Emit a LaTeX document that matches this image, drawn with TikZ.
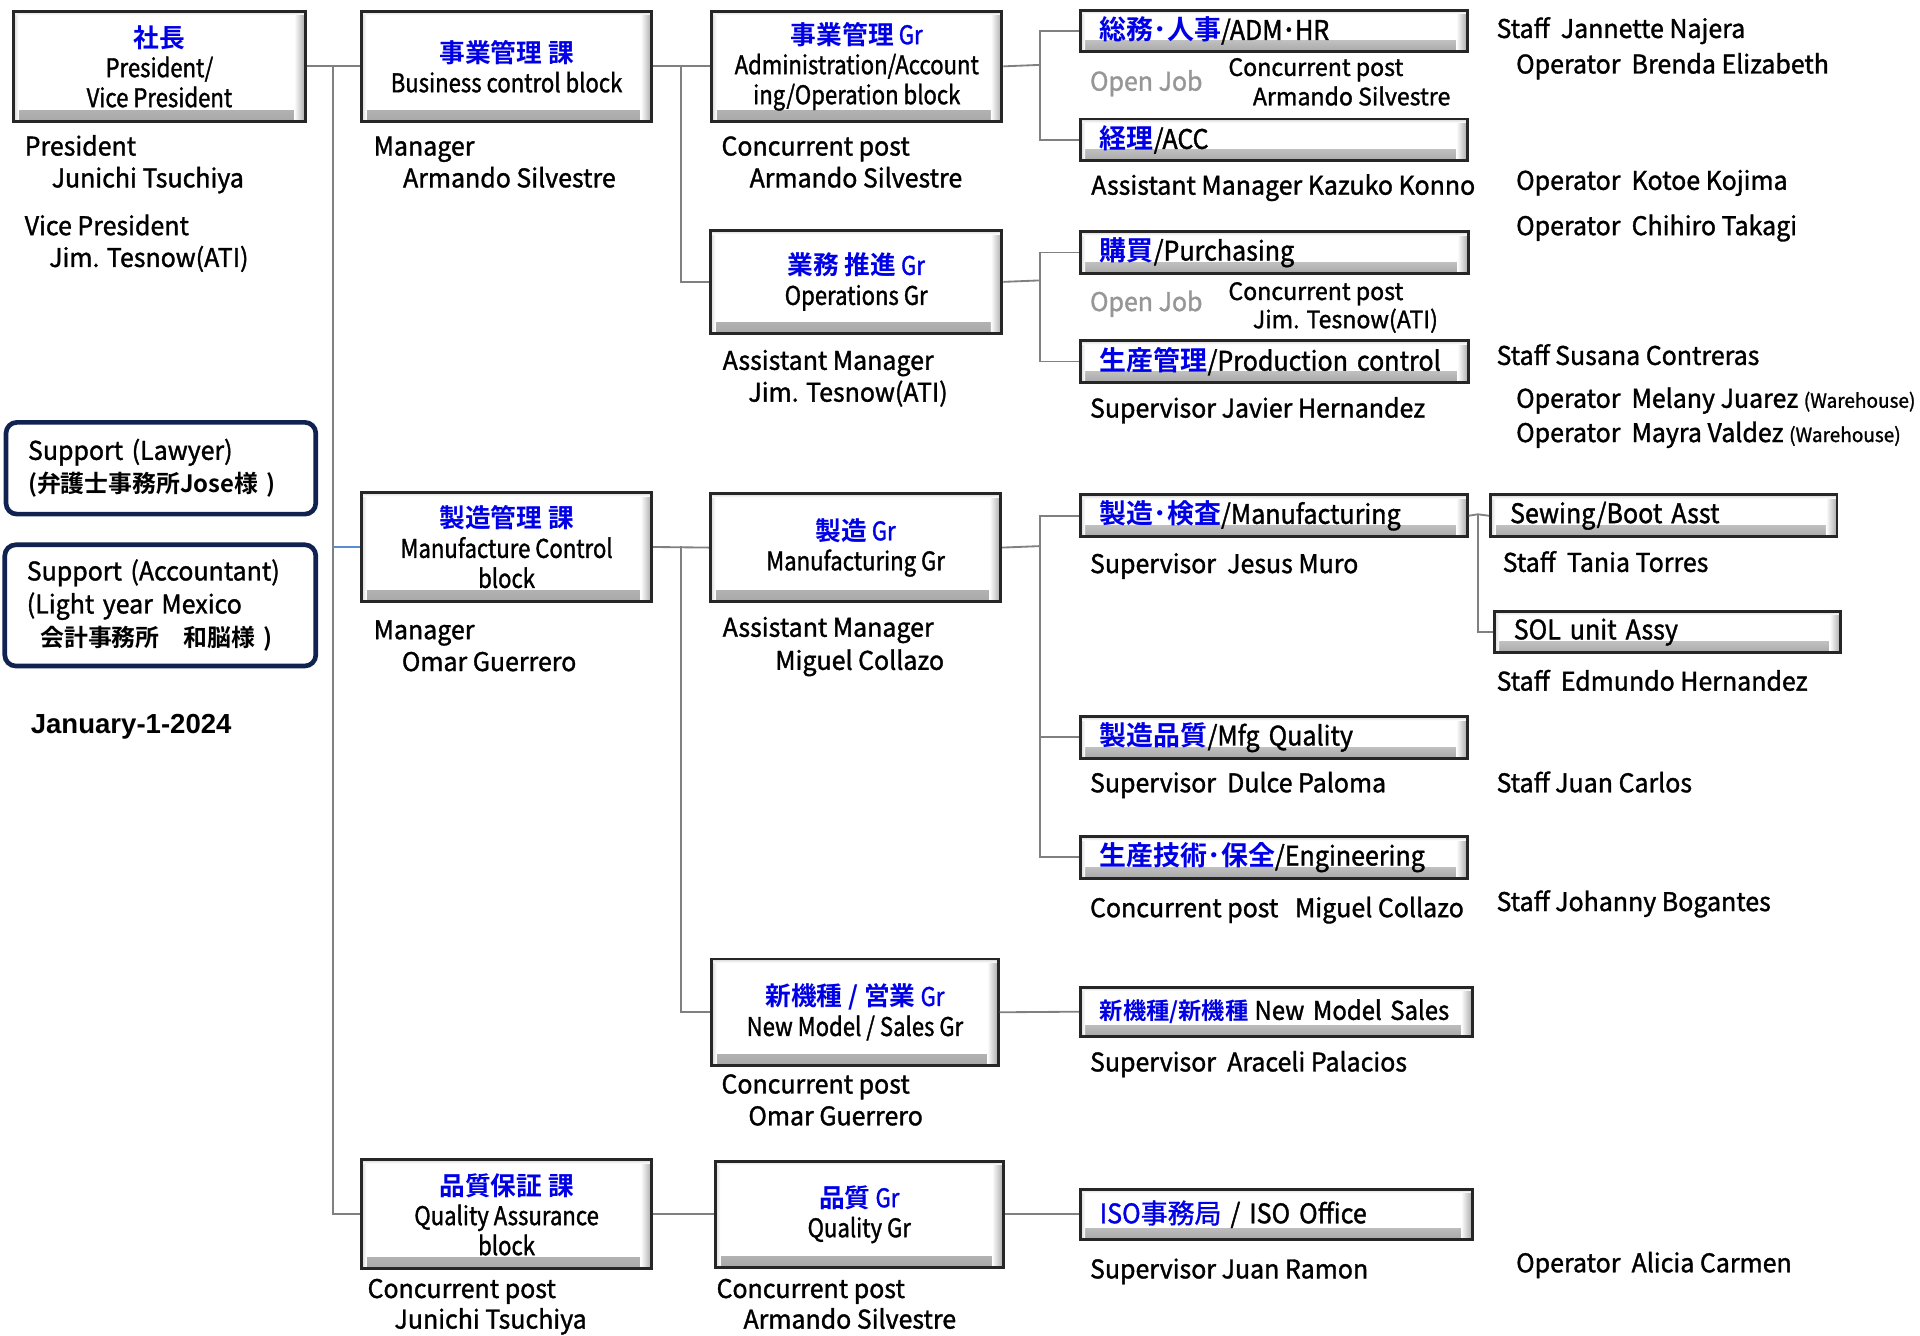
\documentclass[tikz,border=0pt]{standalone}
\usepackage{fontspec}
\setmainfont{Noto Sans CJK JP}[FakeStretch=0.97, FakeBold=1.3]
\newfontfamily\boxfont{Noto Sans CJK JP}[FakeStretch=0.86, FakeBold=1.3]
\newfontfamily\barfont{Noto Sans CJK JP}[FakeStretch=0.93, FakeBold=1.3]
\newfontfamily\jpfont{Noto Sans CJK JP Bold}
\newfontfamily\jpreg{Noto Sans CJK JP}[FakeBold=1.3]
\newfontfamily\arialfont{Liberation Sans}
\usetikzlibrary{calc}
\definecolor{jblue}{RGB}{0,0,230}
\definecolor{linegray}{RGB}{128,128,128}
\definecolor{navyline}{RGB}{16,34,80}
\definecolor{opengray}{RGB}{150,150,150}
\definecolor{linkblue}{RGB}{90,140,210}
\newcommand\jb[1]{{\color{jblue}\jpfont #1}}
\newcommand\bl[1]{{\color{jblue}#1}}
\newcommand\mytext[4]{\node[lbl] (#1) at (#2,#3) {#4};}
\tikzset{
  conn/.style={draw=linegray, line width=1.5pt},
  connb/.style={draw=linkblue, line width=1.5pt},
  bevelbox/.style={draw=black!85, line width=2.4pt, fill=white, inner sep=0pt,
     anchor=north west, align=center, font=\boxfont\fontsize{21}{24.5}\selectfont,
     path picture={
       \shade[top color=white, bottom color=black!34] ($(path picture bounding box.south west)+(0pt,9pt)$) rectangle (path picture bounding box.south east);
       \shade[left color=white, right color=black!34] ($(path picture bounding box.north east)+(-9pt,0pt)$) rectangle (path picture bounding box.south east);
       \shade[left color=black!16, right color=white] (path picture bounding box.north west) rectangle ($(path picture bounding box.south west)+(4pt,0pt)$);
       \shade[top color=black!16, bottom color=white] (path picture bounding box.north west) rectangle ($(path picture bounding box.north east)+(0pt,-3pt)$);
     }},
  barbox/.style={bevelbox, minimum height=34pt, inner xsep=16pt, align=left, font=\barfont\fontsize{22}{26}\selectfont},
  suppbox/.style={draw=navyline, line width=3.8pt, rounded corners=9pt, fill=white, anchor=north west,
     align=left, inner xsep=18pt, font=\fontsize{21}{27}\selectfont},
  lbl/.style={anchor=base west, inner sep=0pt, font=\fontsize{21}{25}\selectfont},
  small/.style={lbl, font=\fontsize{19.5}{23}\selectfont},
}
\begin{document}
\begin{tikzpicture}[x=1pt,y=-1pt]
\useasboundingbox (0,0) rectangle (1568,1091);

% ---------- boxes ----------
\node[bevelbox, minimum width=238pt, minimum height=90pt] (pres) at (10,8) {\jb{社長}\\President/\\Vice President};
\node[bevelbox, minimum width=237pt, minimum height=90pt] (bcb) at (294,8) {\jb{事業管理 課}\\Business control block};
\node[bevelbox, minimum width=237pt, minimum height=90pt] (adm) at (580,8) {\jb{事業管理} \bl{Gr}\\Administration/Account\\ing/Operation block};
\node[bevelbox, minimum width=238pt, minimum height=84pt] (ops) at (579,187) {\jb{業務 推進} \bl{Gr}\\Operations Gr};

\node[barbox, text width=284pt] (hr) at (881,7) {\jb{総務･人事}/ADM･HR};
\node[barbox, text width=284pt] (acc) at (881,96) {\jb{経理}/ACC};
\node[barbox, text width=285pt] (pur) at (881,188) {\jb{購買}/Purchasing};
\node[barbox, text width=285pt] (prod) at (881,277) {\jb{生産管理}/Production control};

\node[suppbox, text width=217pt, minimum height=75pt] (law) at (3,343) {Support (Lawyer)\\{\jpfont\fontsize{19.5}{24}\selectfont (弁護士事務所Jose様 )}};
\node[suppbox, text width=218pt, minimum height=99pt] (accnt) at (2,443) {Support (Accountant)\\(Light year Mexico\\\hspace*{11pt}{\jpfont\fontsize{19.5}{24}\selectfont 会計事務所　和脳様 )}};

\node[bevelbox, minimum width=237pt, minimum height=89pt] (mcb) at (294,401) {\jb{製造管理 課}\\Manufacture Control\\block};
\node[bevelbox, minimum width=237pt, minimum height=88pt] (mfg) at (579,402) {\jb{製造} \bl{Gr}\\Manufacturing Gr};
\node[barbox, text width=284pt] (mfgi) at (881,403) {\jb{製造･検査}/Manufacturing};
\node[barbox, text width=251pt] (sew) at (1216,403) {Sewing/Boot Asst};
\node[barbox, text width=251pt] (sol) at (1219,498) {SOL unit Assy};
\node[barbox, text width=284pt] (mq) at (881,584) {\jb{製造品質}/Mfg Quality};
\node[barbox, text width=284pt] (eng) at (881,682) {\jb{生産技術･保全}/Engineering};

\node[bevelbox, minimum width=234pt, minimum height=87pt] (nmg) at (580,782) {\jb{新機種 / 営業} \bl{Gr}\\New Model / Sales Gr};
\node[barbox, text width=288pt, minimum height=40pt, font=\barfont\fontsize{21}{25}\selectfont] (nms) at (881,805) {\mbox{{\color{jblue}\jpfont\fontsize{19}{22}\selectfont 新機種/新機種}\hspace{5pt}New Model Sales}};

\node[bevelbox, minimum width=237pt, minimum height=89pt] (qab) at (294,946) {\jb{品質保証 課}\\Quality Assurance\\block};
\node[bevelbox, minimum width=235pt, minimum height=87pt] (qg) at (583,947) {\jb{品質} \bl{Gr}\\Quality Gr};
\node[barbox, text width=288pt, minimum height=41pt] (iso) at (881,970) {{\color{jblue}ISO{\jpreg 事務局}} / ISO Office};

% ---------- connectors ----------
\coordinate (tr) at (272,53);
\draw[conn] (pres.east) -- (bcb.west);
\draw[conn] (tr) |- (qab.west);
\draw[connb] (tr |- mcb.west) -- (mcb.west);

\coordinate (b1) at (556,53);
\draw[conn] (bcb.east) -- (adm.west);
\draw[conn] (b1) |- (ops.west);

\coordinate (a1) at (849,53);
\draw[conn] (adm.east) -- (a1);
\draw[conn] (hr.west) -| (a1);
\draw[conn] (acc.west) -| (a1);

\coordinate (o1) at (849,229);
\draw[conn] (ops.east) -- (o1);
\draw[conn] (pur.west) -| (o1);
\draw[conn] (prod.west) -| (o1);

\coordinate (m1) at (556,446);
\draw[conn] (mcb.east) -- (mfg.west);
\draw[conn] (m1) |- (nmg.west);

\coordinate (g1) at (849,446);
\draw[conn] (mfg.east) -- (g1);
\draw[conn] (mfgi.west) -| (g1);
\draw[conn] (eng.west) -| (g1);
\draw[conn] (mq.west) -- (mq.west -| g1);

\coordinate (s1) at (1207,420);
\draw[conn] (mfgi.east) -- (s1);
\draw[conn] (s1) -- (sew.west);
\draw[conn] (s1) |- (sol.west);

\draw[conn] (nmg.east) -- (nms.west);
\draw[conn] (qab.east) -- (qg.west);
\draw[conn] (qg.east) -- (iso.west);

% ---------- labels ----------
\mytext{t1}{20}{127}{President}
\mytext{t2}{42}{153}{Junichi Tsuchiya}
\mytext{t3}{20}{192}{Vice President}
\mytext{t4}{40}{218}{Jim. Tesnow(ATI)}

\mytext{t5}{305}{127}{Manager}
\mytext{t6}{329}{153}{Armando Silvestre}

\mytext{t7}{589}{127}{Concurrent post}
\mytext{t8}{612}{153}{Armando Silvestre}

\node[lbl, text=opengray] (oj1) at (890,74) {Open Job};
\node[small] (t9) at (1003,62) {Concurrent post};
\node[small] (t10) at (1023,86) {Armando Silvestre};
\mytext{t11}{891}{159}{Assistant Manager Kazuko Konno}

\mytext{t12}{1222}{31}{Staff~~Jannette Najera}
\mytext{t13}{1238}{60}{Operator~~Brenda Elizabeth}
\mytext{t14}{1238}{155}{Operator~~Kotoe Kojima}
\mytext{t15}{1238}{192}{Operator~~Chihiro Takagi}

\mytext{t16}{590}{302}{Assistant Manager}
\mytext{t17}{611}{328}{Jim. Tesnow(ATI)}

\node[lbl, text=opengray] (oj2) at (890,254) {Open Job};
\node[small] (t18) at (1003,245) {Concurrent post};
\node[small] (t19) at (1023,268) {Jim. Tesnow(ATI)};
\mytext{t20}{1222}{298}{Staff Susana Contreras}
\mytext{t21}{890}{341}{Supervisor Javier Hernandez}
\mytext{t22}{1238}{333}{Operator~~Melany Juarez {\fontsize{16}{18}\selectfont (Warehouse)}}
\mytext{t23}{1238}{361}{Operator~~Mayra Valdez {\fontsize{16}{18}\selectfont (Warehouse)}}

\node[anchor=base west, inner sep=0pt, font=\arialfont\bfseries\fontsize{22.5}{26}\selectfont] (date) at (25,599) {January-1-2024};

\mytext{t24}{305}{522}{Manager}
\mytext{t25}{328}{548}{Omar Guerrero}
\mytext{t26}{590}{520}{Assistant Manager}
\mytext{t27}{633}{547}{Miguel Collazo}
\mytext{t28}{890}{468}{Supervisor~~Jesus Muro}
\mytext{t29}{1227}{467}{Staff~~Tania Torres}
\mytext{t30}{1222}{564}{Staff~~Edmundo Hernandez}
\mytext{t31}{890}{647}{Supervisor~~Dulce Paloma}
\mytext{t32}{1222}{647}{Staff Juan Carlos}
\mytext{t33}{890}{749}{Concurrent post~~~Miguel Collazo}
\mytext{t34}{1222}{744}{Staff Johanny Bogantes}

\mytext{t35}{589}{893}{Concurrent post}
\mytext{t36}{611}{919}{Omar Guerrero}
\mytext{t37}{890}{875}{Supervisor~~Araceli Palacios}

\mytext{t38}{300}{1060}{Concurrent post}
\mytext{t39}{322}{1085}{Junichi Tsuchiya}
\mytext{t40}{585}{1060}{Concurrent post}
\mytext{t41}{607}{1085}{Armando Silvestre}
\mytext{t42}{890}{1044}{Supervisor Juan Ramon}
\mytext{t43}{1238}{1039}{Operator~~Alicia Carmen}
\end{tikzpicture}
\end{document}
